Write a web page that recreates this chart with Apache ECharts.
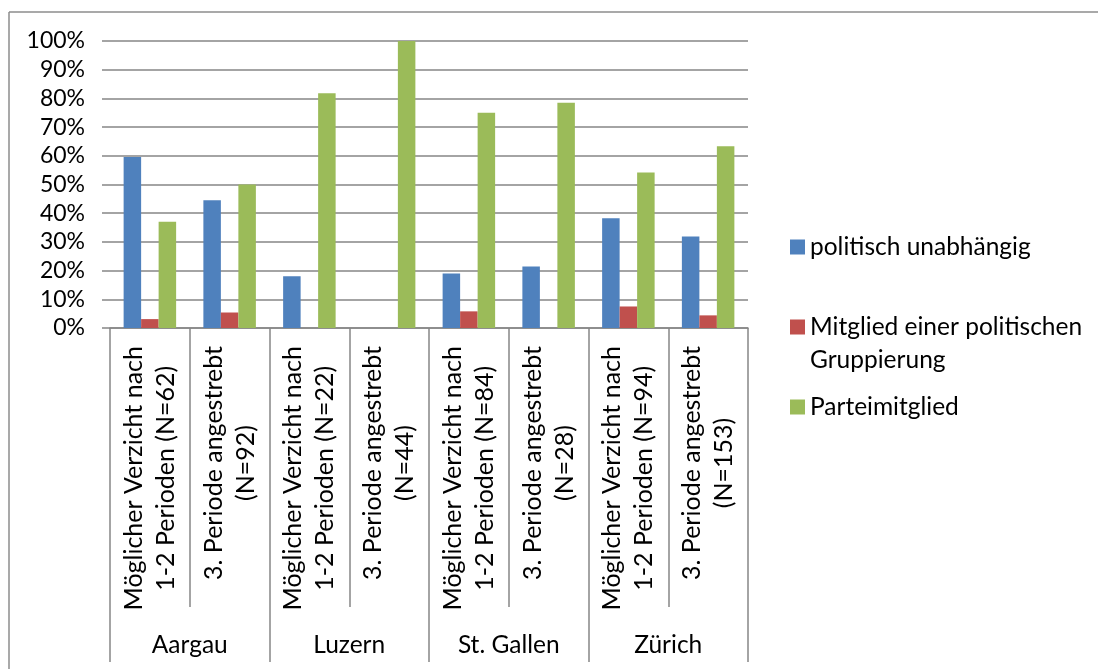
<!DOCTYPE html>
<html>
<head>
<meta charset="utf-8">
<script src="https://cdn.jsdelivr.net/npm/echarts@6/dist/echarts.min.js"></script>
<style>
  html, body { margin: 0; padding: 0; background: #fff; }
  #chart { width: 1098px; height: 669px; }
</style>
</head>
<body>
<div id="chart"></div>
<script>
// Kategorien (zweizeilig) und Kantone
const categories = [
  "Möglicher Verzicht nach\n1-2 Perioden (N=62)",
  "3. Periode angestrebt\n(N=92)",
  "Möglicher Verzicht nach\n1-2 Perioden (N=22)",
  "3. Periode angestrebt\n(N=44)",
  "Möglicher Verzicht nach\n1-2 Perioden (N=84)",
  "3. Periode angestrebt\n(N=28)",
  "Möglicher Verzicht nach\n1-2 Perioden (N=94)",
  "3. Periode angestrebt\n(N=153)",
];
const cantons = ["Aargau", "Luzern", "St. Gallen", "Zürich"];

// Werte in Prozent
const unabhaengig = [59.6, 44.5, 18.0, 0, 19.0, 21.4, 38.2, 31.9];
const gruppierung = [3.1, 5.4, 0, 0, 5.8, 0, 7.5, 4.4];
const partei = [37.0, 50.0, 81.8, 100, 75.0, 78.5, 54.2, 63.3];

const yTicks = { min: 0, max: 100, interval: 10 };

const FONT = "Lato";
const GRAY = "#868686";

let myChart = echarts.init(document.getElementById("chart"));

const legendBase = {
  orient: "vertical",
  left: 790,
  padding: 0,
  itemWidth: 15,
  itemHeight: 15,
  selectedMode: false,
  textStyle: { fontFamily: FONT, fontSize: 24.5, color: "#000", lineHeight: 33 },
};

let option = {
  animation: false,
  color: ["#4F81BD", "#C0504D", "#9BBB59"],
  legend: [
    Object.assign({}, legendBase, {
      top: 230.5,
      data: [{ name: "politisch unabhängig", icon: "rect" }],
    }),
    Object.assign({}, legendBase, {
      top: 310.5,
      itemHeight: 48,
      // Quadrat oben, damit es auf Höhe der ersten Zeile steht
      data: [
        {
          name: "Mitglied einer politischen Gruppierung",
          icon: "path://M0,0h15v15h-15z M0,48L0.001,48",
        },
      ],
      formatter: () => "Mitglied einer politischen\nGruppierung",
    }),
    Object.assign({}, legendBase, {
      top: 390.5,
      data: [{ name: "Parteimitglied", icon: "rect" }],
    }),
  ],
  graphic: [
    { type: "line", shape: { x1: 9, y1: 12, x2: 1098, y2: 12 }, style: { stroke: "#8c8c8c", lineWidth: 1.5 } },
    { type: "line", shape: { x1: 9, y1: 12, x2: 9, y2: 669 }, style: { stroke: "#8c8c8c", lineWidth: 1.5 } },
  ],
  grid: {
    left: 110,
    right: 350,
    top: 41,
    bottom: 341,
    outerBoundsMode: "none",
  },
  xAxis: [
    {
      type: "category",
      data: categories,
      position: "bottom",
      axisLine: { lineStyle: { color: GRAY, width: 1.5 } },
      axisTick: {
        show: true,
        interval: 0,
        alignWithLabel: false,
        length: 279,
        lineStyle: { color: GRAY, width: 1.5 },
      },
      axisLabel: {
        interval: 0,
        rotate: 90,
        margin: 18,
        formatter: (v) =>
          v
            .split("\n")
            .map((l) => "{c|" + l + "}")
            .join("\n"),
        rich: {
          c: { align: "center", fontFamily: FONT, fontSize: 25, lineHeight: 32, color: "#000" },
        },
      },
    },
    {
      type: "category",
      data: cantons,
      position: "bottom",
      axisLine: { show: false },
      axisTick: {
        show: true,
        interval: 0,
        alignWithLabel: false,
        length: 334,
        lineStyle: { color: GRAY, width: 1.5 },
      },
      axisLabel: {
        interval: 0,
        margin: 303,
        fontFamily: FONT,
        fontSize: 24.5,
        lineHeight: 28,
        color: "#000",
      },
    },
  ],
  yAxis: {
    type: "value",
    min: yTicks.min,
    max: yTicks.max,
    interval: yTicks.interval,
    axisLine: { show: false },
    axisTick: { show: true, length: 8, lineStyle: { color: GRAY, width: 1.5 } },
    splitLine: { show: true, lineStyle: { color: GRAY, width: 1.5 } },
    axisLabel: {
      formatter: "{value}%",
      margin: 25,
      fontFamily: FONT,
      fontSize: 23,
      color: "#000",
    },
  },
  series: [
    {
      name: "politisch unabhängig",
      type: "bar",
      data: unabhaengig,
      barWidth: 17.5,
      barGap: "0%",
    },
    {
      name: "Mitglied einer politischen Gruppierung",
      type: "bar",
      data: gruppierung,
      barWidth: 17.5,
      barGap: "0%",
    },
    {
      name: "Parteimitglied",
      type: "bar",
      data: partei,
      barWidth: 17.5,
      barGap: "0%",
    },
  ],
};
myChart.setOption(option);
</script>
</body>
</html>
